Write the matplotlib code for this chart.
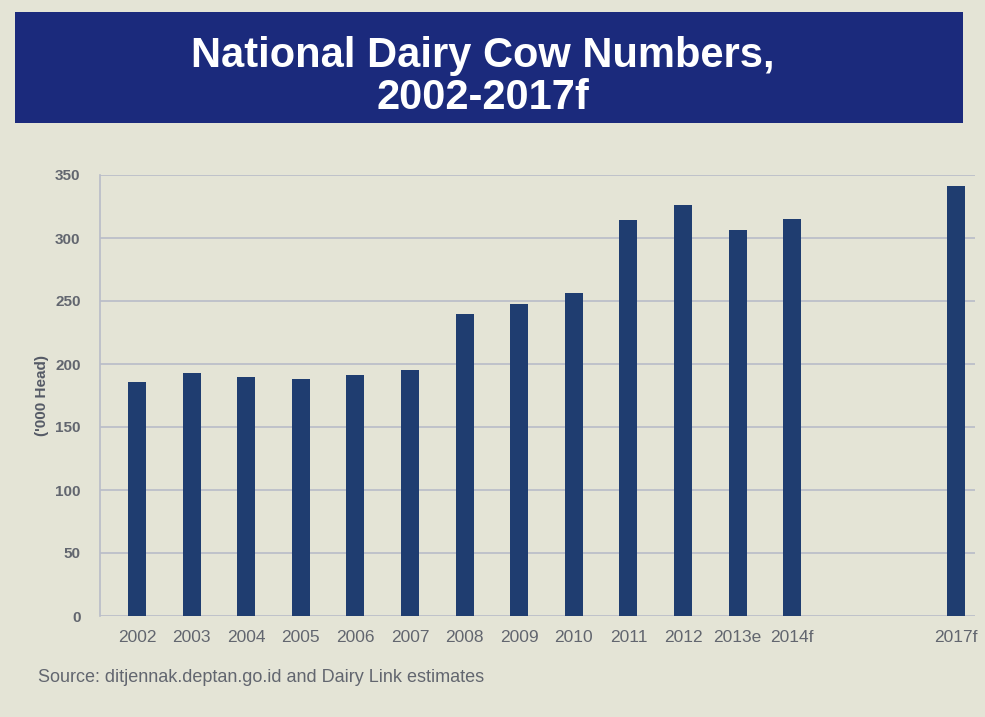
import numpy as np
import matplotlib
matplotlib.use("Agg")
import matplotlib.pyplot as plt
from matplotlib.patches import Rectangle

# Values ('000 head)
years = [2002, 2003, 2004, 2005, 2006, 2007, 2008, 2009, 2010, 2011, 2012, 2013, 2014, 2017]
labels = ["2002", "2003", "2004", "2005", "2006", "2007", "2008", "2009", "2010",
          "2011", "2012", "2013e", "2014f", "2017f"]
cows = [186, 193, 190, 188, 191, 195, 240, 248, 256, 314, 326, 306, 315, 341]

title = "National Dairy Cow Numbers,\n2002-2017f"
source = "Source: ditjennak.deptan.go.id and Dairy Link estimates"

bg = "#e4e4d6"
navy = "#1b2a7c"
bar_col = "#1f3d70"
text_grey = "#62666f"

fig = plt.figure(figsize=(9.85, 7.17), dpi=100, facecolor=bg)

# title banner
fig.patches.append(Rectangle((15 / 985, 1 - 123 / 717), 948 / 985, 111 / 717,
                             transform=fig.transFigure, facecolor=navy,
                             edgecolor="none", zorder=0))
fig.text(0.49, 1 - 77 / 717, title, ha="center", va="center", color="white",
         fontsize=30, fontweight="bold", linespacing=1.08,
         family="Liberation Sans")

ax = fig.add_axes([100 / 985, 1 - 616 / 717, 875 / 985, 441 / 717])
ax.set_facecolor(bg)
ax.bar(years, cows, width=0.33, color=bar_col, zorder=3)

ax.set_xlim(2001.32, 2017.35)
ax.set_ylim(0, 350)
ax.set_yticks(np.arange(0, 351, 50))
ax.set_xticks(years)
ax.set_xticklabels(labels)
ax.grid(axis="y", color="#b8bcc8", linewidth=1.2, zorder=0)
for s in ["top", "right", "bottom"]:
    ax.spines[s].set_visible(False)
ax.spines["left"].set_color("#b8bcc8")
ax.spines["left"].set_linewidth(1.2)
ax.tick_params(axis="x", length=0, pad=10, labelsize=12.5, labelcolor=text_grey)
ax.tick_params(axis="y", length=0, pad=14, labelsize=11, labelcolor=text_grey)
for t in ax.get_xticklabels() + ax.get_yticklabels():
    t.set_family("Liberation Sans")
for t in ax.get_yticklabels():
    t.set_fontweight("bold")

fig.text(42 / 985, 1 - 395 / 717, "('000 Head)", rotation=90, ha="center",
         va="center", fontsize=11, fontweight="bold", color="#555a66",
         family="Liberation Sans")
fig.text(38 / 985, 1 - 677 / 717, source, ha="left", va="center",
         fontsize=13, color=text_grey, family="Liberation Sans")

fig.savefig("out.png", dpi=100, facecolor=bg)
